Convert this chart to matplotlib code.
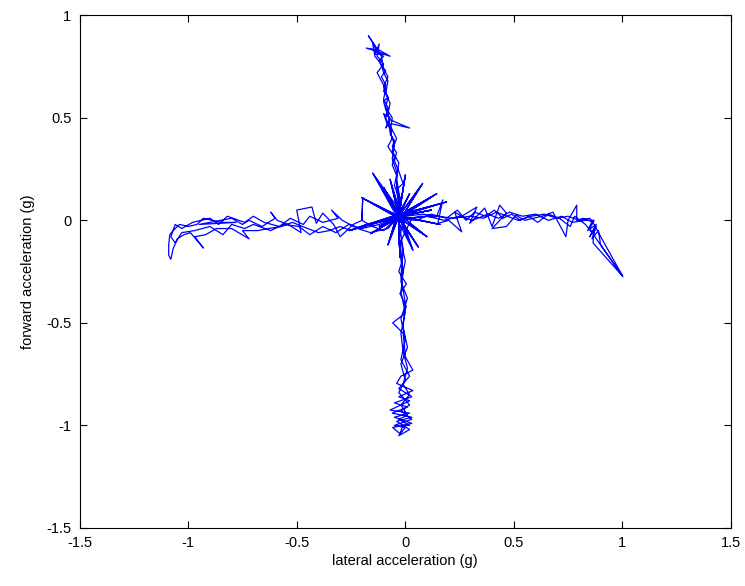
import matplotlib.pyplot as plt
import numpy as np

plt.rcParams['font.family'] = ['Liberation Sans', 'DejaVu Sans']

# trajectory pieces (lateral g, forward g)
up_arm = [(-0.03, 0.02), (-0.02, 0.10), (-0.04, 0.15), (-0.01, 0.18), (-0.03, 0.24),
          (-0.05, 0.29), (-0.04, 0.33), (-0.06, 0.36), (-0.05, 0.39), (-0.07, 0.42),
          (-0.06, 0.44), (-0.08, 0.47), (-0.09, 0.45), (-0.07, 0.50), (-0.10, 0.52),
          (-0.08, 0.46), (-0.06, 0.47), (0.02, 0.45), (-0.07, 0.49), (-0.09, 0.54),
          (-0.10, 0.58), (-0.08, 0.60), (-0.10, 0.63), (-0.09, 0.66), (-0.11, 0.70),
          (-0.09, 0.73), (-0.11, 0.75), (-0.12, 0.78), (-0.10, 0.80), (-0.13, 0.82),
          (-0.07, 0.80), (-0.12, 0.83), (-0.18, 0.84), (-0.12, 0.82), (-0.17, 0.90),
          (-0.14, 0.85), (-0.13, 0.82), (-0.09, 0.81), (-0.14, 0.81), (-0.12, 0.86),
          (-0.13, 0.80), (-0.12, 0.79), (-0.10, 0.76), (-0.13, 0.72), (-0.11, 0.68),
          (-0.09, 0.64), (-0.10, 0.59), (-0.08, 0.55), (-0.09, 0.50), (-0.07, 0.44),
          (-0.06, 0.40), (-0.08, 0.36), (-0.05, 0.31), (-0.06, 0.27), (-0.04, 0.22),
          (-0.05, 0.17), (-0.03, 0.11), (-0.02, 0.04)]

up_arm_2 = [(-0.02, 0.08), (-0.04, 0.20), (-0.03, 0.28), (-0.06, 0.34), (-0.04, 0.40),
            (-0.07, 0.46), (-0.08, 0.52), (-0.07, 0.57), (-0.09, 0.62), (-0.08, 0.68),
            (-0.10, 0.72), (-0.11, 0.76), (-0.14, 0.80), (-0.15, 0.86), (-0.13, 0.83),
            (-0.11, 0.80), (-0.10, 0.74), (-0.08, 0.70), (-0.10, 0.65), (-0.08, 0.60),
            (-0.09, 0.55), (-0.06, 0.50), (-0.07, 0.43), (-0.05, 0.37), (-0.06, 0.30),
            (-0.04, 0.24), (-0.04, 0.16), (-0.03, 0.06)]

spokes = [(-0.15, 0.23), (-0.03, 0.02), (-0.20, 0.11), (-0.03, 0.01), (0.145, 0.13),
          (-0.02, 0.03), (0.19, 0.09), (-0.03, 0.02), (0.02, 0.13), (-0.04, 0.01),
          (0.035, -0.145), (-0.03, 0.02), (-0.16, -0.065), (-0.02, 0.02), (-0.26, -0.05),
          (-0.03, 0.03), (-0.025, -0.18), (-0.03, 0.02), (0.08, 0.18), (-0.02, 0.01),
          (-0.10, 0.16), (-0.03, 0.03), (0.10, -0.08), (-0.04, 0.02), (-0.08, -0.12),
          (-0.03, 0.02), (0.12, 0.05), (-0.02, 0.02), (-0.12, -0.03), (-0.03, 0.01),
          (0.06, -0.13), (-0.03, 0.02), (0.0, 0.22), (-0.03, 0.02), (0.16, -0.02),
          (-0.02, 0.02), (-0.07, 0.20), (-0.03, 0.02)]

left_arm = [(-0.05, 0.0), (-0.10, -0.05), (-0.15, -0.03), (-0.20, 0.0), (-0.196, 0.11),
            (-0.20, 0.0), (-0.24, -0.02), (-0.28, -0.06), (-0.30, -0.08), (-0.33, -0.02),
            (-0.38, 0.035), (-0.41, -0.015), (-0.43, 0.065), (-0.50, 0.05), (-0.48, -0.06),
            (-0.54, -0.02), (-0.59, 0.0), (-0.62, 0.04), (-0.60, 0.01), (-0.66, -0.03),
            (-0.72, 0.0), (-0.75, -0.02), (-0.80, 0.01), (-0.95, -0.02), (-0.78, -0.01),
            (-0.85, -0.01), (-0.89, 0.0), (-0.93, 0.01), (-0.96, -0.02), (-1.00, -0.03),
            (-1.04, -0.02), (-1.07, -0.05), (-1.085, -0.07), (-1.09, -0.12), (-1.09, -0.17),
            (-1.08, -0.19), (-1.07, -0.14), (-1.05, -0.09), (-1.02, -0.07), (-0.99, -0.06),
            (-0.93, -0.135), (-0.97, -0.08), (-0.92, -0.07), (-0.87, -0.04), (-0.80, -0.04),
            (-0.72, -0.09), (-0.75, -0.05), (-0.68, -0.05), (-0.63, -0.04), (-0.57, -0.03),
            (-0.52, -0.01), (-0.45, -0.04), (-0.40, -0.06), (-0.35, -0.05), (-0.30, -0.03),
            (-0.25, -0.05), (-0.18, -0.02), (-0.10, 0.0), (-0.04, 0.02)]

left_arm_2 = [(-0.08, -0.04), (-0.16, -0.06), (-0.22, -0.04), (-0.29, 0.0), (-0.34, 0.05),
              (-0.31, 0.01), (-0.38, -0.01), (-0.44, 0.02), (-0.47, -0.02), (-0.53, 0.01),
              (-0.58, -0.03), (-0.65, -0.01), (-0.70, 0.02), (-0.74, -0.01), (-0.82, 0.02),
              (-0.86, -0.02), (-0.90, 0.01), (-0.98, -0.01), (-1.03, -0.04), (-1.06, -0.02),
              (-1.08, -0.08), (-1.06, -0.11), (-1.03, -0.06), (-0.97, -0.05), (-0.90, -0.03),
              (-0.84, -0.07), (-0.80, -0.02), (-0.74, -0.04), (-0.70, -0.02), (-0.62, -0.05),
              (-0.56, -0.02), (-0.49, -0.03), (-0.44, -0.07), (-0.38, -0.03), (-0.32, -0.06),
              (-0.26, -0.02), (-0.20, -0.04), (-0.12, -0.02), (-0.05, 0.01)]

right_arm = [(0.02, 0.01), (0.07, 0.02), (0.144, 0.017), (0.173, 0.10), (0.15, -0.015),
             (0.20, 0.0), (0.26, -0.056), (0.228, 0.04), (0.26, 0.02), (0.33, 0.065),
             (0.297, -0.015), (0.366, 0.06), (0.40, -0.03), (0.435, 0.074), (0.466, 0.035),
             (0.40, -0.04), (0.466, -0.03), (0.51, 0.025), (0.55, 0.0), (0.59, 0.01),
             (0.63, 0.02), (0.68, 0.04), (0.70, 0.0), (0.74, -0.08), (0.75, 0.0),
             (0.79, 0.074), (0.79, 0.0), (0.82, 0.01), (0.86, -0.007), (0.84, -0.05),
             (0.88, -0.02), (0.85, -0.08), (0.87, -0.04), (0.865, -0.11), (1.003, -0.275),
             (0.89, -0.06), (0.87, -0.02), (0.85, 0.01), (0.80, 0.0), (0.75, 0.02),
             (0.70, 0.01), (0.64, 0.03), (0.58, 0.02), (0.52, 0.0), (0.47, 0.02),
             (0.42, 0.04), (0.36, 0.01), (0.30, 0.02), (0.22, 0.01), (0.15, 0.02),
             (0.08, 0.03), (0.0, 0.02)]

right_arm_2 = [(0.05, 0.0), (0.12, 0.03), (0.19, 0.01), (0.24, 0.05), (0.28, 0.0),
               (0.32, 0.04), (0.37, 0.02), (0.41, 0.05), (0.45, 0.01), (0.49, 0.03),
               (0.53, 0.0), (0.57, 0.02), (0.61, -0.01), (0.66, 0.03), (0.71, 0.01),
               (0.76, -0.03), (0.78, 0.02), (0.83, -0.02), (0.86, -0.06), (0.88, -0.03),
               (0.86, -0.09), (0.89, -0.05), (0.90, -0.12), (1.0, -0.27), (0.88, -0.09),
               (0.85, -0.04), (0.87, 0.0), (0.83, 0.0), (0.77, -0.01), (0.72, 0.02),
               (0.66, 0.0), (0.60, 0.03), (0.54, 0.02), (0.48, 0.04), (0.43, 0.01),
               (0.38, 0.03), (0.31, 0.0), (0.25, 0.02), (0.18, 0.0), (0.10, 0.02),
               (0.03, 0.01)]

down_arm = [(-0.02, -0.05), (-0.03, -0.10), (-0.025, -0.145), (-0.018, -0.21), (-0.03, -0.25),
            (0.005, -0.31), (-0.025, -0.356), (0.005, -0.42), (-0.01, -0.46), (-0.058, -0.50),
            (-0.01, -0.55), (-0.005, -0.60), (0.0, -0.665), (0.035, -0.73), (-0.02, -0.76),
            (-0.04, -0.795), (0.035, -0.83), (-0.03, -0.86), (0.02, -0.88), (-0.07, -0.925),
            (0.02, -0.94), (-0.05, -0.96), (0.03, -0.99), (-0.058, -1.01), (-0.025, -1.04),
            (-0.01, -1.00), (0.02, -1.00), (-0.03, -0.97), (0.01, -0.95), (-0.02, -0.90),
            (0.02, -0.85), (-0.01, -0.80), (0.01, -0.72), (-0.01, -0.64), (-0.02, -0.55),
            (0.0, -0.45), (-0.02, -0.35), (-0.01, -0.25), (-0.02, -0.15), (-0.03, -0.05)]

down_arm_2 = [(-0.02, -0.10), (0.0, -0.20), (-0.02, -0.30), (0.01, -0.38), (-0.02, -0.48),
              (0.0, -0.58), (-0.02, -0.68), (0.02, -0.76), (-0.03, -0.82), (0.03, -0.86),
              (-0.05, -0.89), (0.01, -0.91), (-0.06, -0.94), (0.03, -0.96), (-0.04, -0.98),
              (0.02, -1.02), (-0.03, -1.05), (0.0, -1.01), (-0.05, -1.0), (0.03, -0.97),
              (-0.02, -0.93), (0.02, -0.90), (-0.03, -0.84), (0.0, -0.78), (-0.02, -0.70),
              (0.01, -0.62), (-0.01, -0.52), (0.0, -0.40), (-0.02, -0.28), (-0.01, -0.14),
              (-0.03, 0.0)]

xticks = [-1.5, -1, -0.5, 0, 0.5, 1, 1.5]
yticks = [-1.5, -1, -0.5, 0, 0.5, 1]

path = np.array(up_arm + spokes + left_arm + spokes[:10] + right_arm + down_arm
                + up_arm_2 + spokes[10:] + left_arm_2 + right_arm_2 + down_arm_2)

fig = plt.figure(figsize=(7.45, 5.86), dpi=100)
ax = fig.add_axes([0.107, 0.099, 0.874, 0.875])
ax.plot(path[:, 0], path[:, 1], color='#0000ff', linewidth=0.9)

ax.set_xlim(-1.5, 1.5)
ax.set_ylim(-1.5, 1)
ax.set_xticks(xticks)
ax.set_xticklabels(['-1.5', '-1', '-0.5', '0', '0.5', '1', '1.5'])
ax.set_yticks(yticks)
ax.set_yticklabels(['-1.5', '-1', '-0.5', '0', '0.5', '1'])
ax.tick_params(direction='in', top=True, right=True, labelsize=10.5, length=5, pad=6)
for s in ax.spines.values():
    s.set_linewidth(0.8)
ax.set_xlabel('lateral acceleration (g)', fontsize=10.5, labelpad=3)
ax.set_ylabel('forward acceleration (g)', fontsize=10.5, labelpad=8)

fig.savefig('out.png', dpi=100)
